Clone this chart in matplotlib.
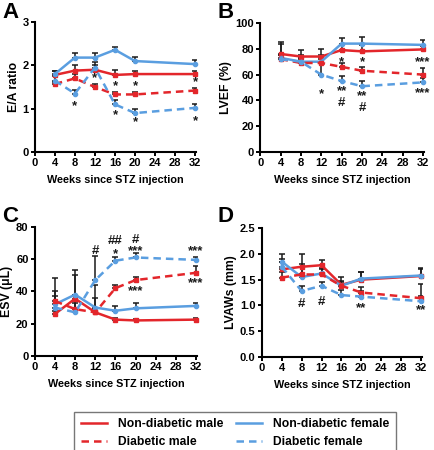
import numpy as np
import matplotlib
matplotlib.use('Agg')
from matplotlib import pyplot as plt

plt.rcParams['font.family'] = ['Liberation Sans', 'DejaVu Sans']
plt.rcParams['font.weight'] = 'bold'

weeks = [4, 8, 12, 16, 20, 32]
RED = '#e3262b'
BLUE = '#5a9ee0'

# panel A: E/A ratio
a_nd_m = [1.78, 1.88, 1.90, 1.78, 1.80, 1.80]
a_nd_f = [1.80, 2.18, 2.18, 2.36, 2.10, 2.03]
a_d_m = [1.57, 1.70, 1.50, 1.33, 1.33, 1.42]
a_d_f = [1.65, 1.35, 1.95, 1.10, 0.90, 1.02]
a_err = [[0.10, 0.12, 0.10, 0.12, 0.08, 0.07],
         [0.08, 0.10, 0.10, 0.06, 0.10, 0.10],
         [0.05, 0.10, 0.08, 0.06, 0.06, 0.05],
         [0.10, 0.08, 0.12, 0.10, 0.10, 0.08]]
a_marks = [(8, 1.05, '*'), (12, 1.70, '*'), (16, 1.52, '*'), (16, 0.85, '*'),
           (20, 1.52, '*'), (20, 0.69, '*'), (32, 1.62, '*'), (32, 0.72, '*')]

# panel B: LVEF
b_nd_m = [76, 74, 74, 79, 78, 79.5]
b_nd_f = [73, 70, 70, 84, 84, 83]
b_d_m = [72, 69, 69, 66, 63, 60]
b_d_f = [72, 70, 60, 55, 51, 54]
b_err = [[8, 5, 6, 4, 5, 3],
         [12, 5, 5, 4, 5, 4],
         [3, 3, 3, 3, 3, 5],
         [3, 3, 10, 4, 4, 3]]
b_marks = [(12, 45, '*'), (16, 70, '*'), (16, 47, '**'), (16, 38, '#'),
           (20, 70, '*'), (20, 43, '**'), (20, 34, '#'), (32, 70, '***'), (32, 46, '***')]

# panel C: ESV
c_nd_m = [26, 35.5, 27, 22.5, 22, 22.5]
c_nd_f = [32, 38, 30, 28, 29.5, 31]
c_d_m = [34, 29, 27, 42, 47, 51.5]
c_d_f = [30, 27, 47, 59, 61, 59.5]
c_err = [[2, 2, 2, 1, 1, 1],
         [8, 12, 6, 3, 3, 2],
         [3, 4, 17, 2, 2, 4],
         [18, 26, 15, 2, 3, 2]]
c_marks = [(12, 65, '#'), (16, 71, '##'), (16, 63, '*'), (20, 72, '#'), (20, 65, '***'),
           (20, 40, '***'), (32, 65, '***'), (32, 45, '***')]

# panel D: LVAWs
d_nd_m = [1.70, 1.75, 1.78, 1.40, 1.50, 1.57]
d_nd_f = [1.85, 1.55, 1.62, 1.38, 1.52, 1.58]
d_d_m = [1.54, 1.60, 1.60, 1.38, 1.25, 1.14]
d_d_f = [1.75, 1.28, 1.38, 1.20, 1.17, 1.08]
d_err = [[0.20, 0.25, 0.10, 0.15, 0.15, 0.15],
         [0.15, 0.20, 0.10, 0.10, 0.12, 0.12],
         [0.10, 0.20, 0.10, 0.08, 0.10, 0.28],
         [0.10, 0.10, 0.08, 0.10, 0.10, 0.10]]
d_marks = [(8, 1.03, '#'), (12, 1.06, '#'), (20, 0.94, '**'), (32, 0.90, '**')]

labels = ['Non-diabetic male', 'Non-diabetic female', 'Diabetic male', 'Diabetic female']
colors = [RED, BLUE, RED, BLUE]
styles = ['-', '-', (0, (3, 2)), (0, (3, 2))]
markers = ['s', 'o', 's', 'o']


def draw_panel(ax, series, errs, marks, ylim, yticks, ylabel, fmt='%g'):
    for k in range(4):
        ax.errorbar(weeks, series[k], yerr=[np.zeros(6), errs[k]], fmt='none',
                    ecolor='#1a1a1a', elinewidth=1.1, capsize=2, capthick=1.1, zorder=2)
        ax.plot(weeks, series[k], color=colors[k], linestyle=styles[k], lw=1.8,
                marker=markers[k], ms=3, zorder=3, clip_on=False)
    for x, y, t in marks:
        ax.text(x, y, t, ha='center', va='center', fontsize=9.5, color='#1a1a1a')
    ax.set_xlim(0, 32.2)
    ax.set_xticks(range(0, 33, 4))
    ax.set_ylim(*ylim)
    ax.set_yticks(yticks)
    ax.set_yticklabels([fmt % v for v in yticks])
    ax.spines['top'].set_visible(False)
    ax.spines['right'].set_visible(False)
    for s in ['left', 'bottom']:
        ax.spines[s].set_linewidth(1.5)
    ax.tick_params(direction='out', length=3, width=1.4, labelsize=8, pad=1.5)
    for lab in ax.get_xticklabels() + ax.get_yticklabels():
        lab.set_fontweight('bold')
    ax.set_xlabel('Weeks since STZ injection', fontsize=7.8, fontweight='bold', labelpad=5)
    ax.set_ylabel(ylabel, fontsize=8.8, fontweight='bold', labelpad=2)


fig = plt.figure(figsize=(4.35, 4.5), dpi=100)
axA = fig.add_axes([0.080, 0.662, 0.371, 0.289])
axB = fig.add_axes([0.598, 0.662, 0.377, 0.287])
axC = fig.add_axes([0.080, 0.209, 0.373, 0.287])
axD = fig.add_axes([0.602, 0.207, 0.368, 0.286])

draw_panel(axA, [a_nd_m, a_nd_f, a_d_m, a_d_f], a_err, a_marks, (0, 3), [0, 1, 2, 3], 'E/A ratio')
draw_panel(axB, [b_nd_m, b_nd_f, b_d_m, b_d_f], b_err, b_marks, (0, 100), [0, 20, 40, 60, 80, 100], 'LVEF (%)')
draw_panel(axC, [c_nd_m, c_nd_f, c_d_m, c_d_f], c_err, c_marks, (0, 80), [0, 20, 40, 60, 80], 'ESV (\u03bcL)')
draw_panel(axD, [d_nd_m, d_nd_f, d_d_m, d_d_f], d_err, d_marks, (0, 2.5), [0, 0.5, 1.0, 1.5, 2.0, 2.5], 'LVAWs (mm)', fmt='%.1f')

for letter, x, y in [('A', 0.005, 0.995), ('B', 0.500, 0.995), ('C', 0.005, 0.542), ('D', 0.500, 0.542)]:
    fig.text(x, y, letter, fontsize=16, fontweight='bold', ha='left', va='top')

leg_handles = []
for k in range(4):
    h, = axA.plot([], [], color=colors[k], linestyle=styles[k], lw=1.8)
    leg_handles.append(h)
order = [0, 2, 1, 3]
leg = fig.legend([leg_handles[i] for i in order], [labels[i] for i in order],
                 ncol=2, loc='lower center', bbox_to_anchor=(0.540, -0.01),
                 borderaxespad=0, frameon=True, fancybox=False,
                 edgecolor='#555555', fontsize=8.7, handlelength=2.2, handletextpad=0.9,
                 columnspacing=1.0, borderpad=0.55, labelspacing=0.45)
leg.get_frame().set_linewidth(1.0)

fig.savefig('out.png', dpi=100)
